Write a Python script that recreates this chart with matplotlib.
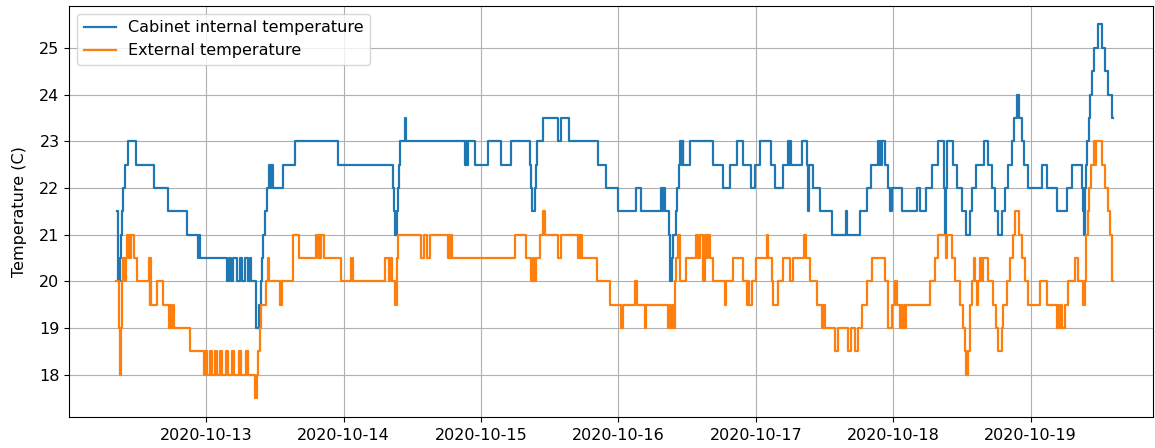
import pandas as pd
import matplotlib
matplotlib.use('Agg')
import matplotlib.pyplot as plt
import matplotlib.dates as mdates

# hours since 2020-10-12 00:00 and readings (C), step changes
cab_hours = [8.49, 8.67, 8.93, 9.11, 9.28, 9.54, 9.89, 10.33, 11.76, 14.87, 17.41, 20.60,
             22.65, 22.82, 23.0, 27.63, 28.07, 28.42, 28.77, 29.47, 29.90, 30.34, 30.86,
             31.39, 31.74, 31.91, 32.73, 33.31, 33.57, 33.83, 34.01, 34.27, 34.62, 35.06,
             35.32, 35.41, 35.67, 37.38, 39.43, 46.99, 56.61, 56.82, 56.99, 57.25, 57.43,
             57.60, 57.78, 58.74, 58.95, 69.14, 69.31, 69.49, 69.75, 70.88, 73.21, 75.43,
             77.30, 80.58, 80.76, 80.93, 81.37, 81.54, 81.81, 82.82, 85.48, 86.00, 87.36,
             92.43, 93.90, 95.88, 99.14, 100.02, 103.39, 103.65, 103.83, 104.09, 104.88,
             105.05, 105.40, 105.58, 106.01, 106.27, 106.62, 106.80, 107.06, 107.24, 107.32,
             108.46, 112.53, 114.31, 115.45, 116.62, 117.77, 119.12, 119.82, 120.78, 122.61,
             123.31, 124.71, 125.64, 125.85, 125.93, 126.06, 128.03, 128.91, 129.08, 129.34,
             130.04, 131.27, 133.36, 135.72, 135.98, 138.17, 139.34, 140.09, 141.37, 141.58,
             141.66, 141.93, 142.01, 142.54, 143.12, 143.50, 143.85, 145.46, 148.08, 148.65,
             149.70, 150.84, 151.80, 152.85, 153.02, 153.28, 153.37, 154.47, 155.12, 155.99,
             156.61, 157.31, 157.74, 158.53, 159.84, 160.54, 161.19, 161.76, 162.34, 162.93,
             163.51, 164.09, 164.68, 165.13, 165.55, 166.04, 166.43, 166.88, 167.58, 169.92,
             170.80, 172.55, 174.29, 175.16, 176.91, 177.05, 177.23, 177.49, 177.67, 177.84,
             178.10, 178.36, 178.66, 179.06, 179.71, 180.51, 180.99, 181.56, 182.12, 182.30]
cab_temp = [21.5, 20.0, 20.5, 21.0, 21.5, 22.0, 22.5, 23.0, 22.5, 22.0, 21.5, 21.0,
            20.5, 21.0, 20.5, 20.0, 20.5, 20.0, 20.5, 20.0, 20.5, 20.0, 20.5,
            20.0, 20.5, 20.0, 19.0, 19.5, 20.0, 20.5, 21.0, 21.5, 22.0, 22.5,
            22.0, 22.5, 22.0, 22.5, 23.0, 22.5, 22.0, 21.5, 21.0, 21.5, 22.0,
            22.5, 23.0, 23.5, 23.0, 22.5, 23.0, 22.5, 23.0, 22.5, 23.0, 22.5,
            23.0, 22.5, 22.0, 21.5, 22.0, 22.5, 23.0, 23.5, 23.0, 23.5, 23.0,
            22.5, 22.0, 21.5, 22.0, 21.5, 22.0, 21.5, 22.0, 21.5, 21.0,
            20.0, 20.5, 21.0, 21.5, 22.0, 22.5, 23.0, 22.5, 23.0, 22.5,
            23.0, 22.5, 22.0, 22.5, 23.0, 22.5, 22.0, 22.5, 23.0, 22.5,
            22.0, 22.5, 23.0, 22.5, 23.0, 22.5, 23.0, 22.5, 21.5, 22.5,
            22.0, 21.5, 21.0, 21.5, 21.0, 21.5, 22.0, 22.5, 23.0, 22.5,
            23.0, 22.5, 23.0, 22.5, 22.0, 21.5, 22.0, 21.5, 22.0, 21.5,
            22.0, 22.5, 23.0, 22.0, 21.0, 22.0, 23.0, 22.5, 22.0, 21.5,
            21.0, 21.5, 22.0, 22.5, 23.0, 22.5, 22.0, 21.5, 21.0, 21.5,
            22.0, 22.5, 23.0, 23.5, 24.0, 23.5, 23.0, 22.5, 22.0, 22.5,
            22.0, 21.5, 22.0, 22.5, 22.0, 21.5, 21.0, 22.0, 22.5, 23.0,
            23.5, 24.0, 24.5, 25.0, 25.5, 25.0, 24.5, 24.0, 23.5, 23.5]

ext_hours = [8.32, 8.76, 8.93, 9.19, 9.37, 9.54, 9.80, 9.98, 10.15, 10.33, 10.50, 10.77,
             10.85, 11.46, 11.99, 13.96, 14.14, 14.26, 14.44, 15.40, 16.53, 17.58, 17.76,
             17.93, 18.19, 18.37, 21.16, 23.70, 23.87, 24.22, 24.75, 25.10, 25.62, 25.97,
             26.49, 26.84, 27.54, 27.89, 28.59, 28.94, 29.81, 30.16, 31.04, 31.39, 32.52,
             32.84, 33.14, 33.40, 33.66, 34.45, 34.80, 35.06, 36.98, 37.21, 39.13, 40.30,
             43.22, 43.45, 43.62, 43.88, 44.06, 44.50, 47.59, 49.30, 49.56, 55.16, 55.94,
             56.12, 56.38, 56.99, 57.25, 57.43, 61.57, 61.97, 62.55, 63.02, 66.22, 66.43,
             66.60, 66.78, 66.95, 77.87, 79.92, 80.79, 81.02, 81.20, 81.67, 82.24, 82.82,
             83.12, 85.48, 86.00, 88.94, 89.15, 89.32, 89.50, 89.67, 92.29, 94.48, 96.52,
             96.80, 98.93, 99.20, 100.59, 100.86, 104.67, 104.88, 105.05, 105.31, 105.49,
             105.84, 106.10, 106.36, 106.71, 107.88, 109.63, 109.94, 110.29, 110.82, 111.08,
             111.43, 111.60, 111.95, 112.53, 114.58, 114.87, 116.03, 117.77, 118.51, 118.68,
             118.86, 119.24, 119.99, 121.86, 122.14, 122.74, 123.02, 123.89, 124.76, 125.93,
             126.51, 128.38, 128.73, 129.43, 130.60, 131.48, 131.65, 131.79, 131.97, 132.14,
             133.80, 134.38, 136.12, 136.60, 137.38, 137.87, 138.52, 139.39, 140.27, 142.54,
             143.12, 143.71, 144.29, 144.58, 145.16, 145.42, 145.60, 145.86, 146.03, 146.30,
             150.40, 151.28, 151.89, 153.20, 153.46, 154.19, 154.77, 155.65, 156.22, 156.52,
             156.78, 157.10, 157.31, 157.48, 157.69, 158.18, 158.35, 158.56, 158.84, 159.14,
             159.44, 159.66, 160.59, 161.46, 161.94, 162.34, 162.93, 163.21, 163.80, 164.38,
             164.96, 165.26, 166.01, 166.43, 167.00, 167.58, 169.62, 170.80, 172.55, 172.77,
             172.95, 173.30, 173.47, 174.00, 174.57, 175.74, 176.32, 177.14, 177.40, 177.67,
             177.93, 178.19, 178.54, 178.98, 179.24, 179.42, 180.41, 180.99, 181.56, 181.86,
             182.16, 182.30]
ext_temp = [20.0, 19.0, 18.0, 19.0, 20.0, 20.5, 20.0, 20.5, 21.0, 20.5, 21.0, 20.5,
            21.0, 20.5, 20.0, 20.5, 19.5, 20.5, 19.5, 20.0, 19.5, 19.0, 19.5,
            19.0, 19.5, 19.0, 18.5, 18.0, 18.5, 18.0, 18.5, 18.0, 18.5, 18.0,
            18.5, 18.0, 18.5, 18.0, 18.5, 18.0, 18.5, 18.0, 18.5, 18.0, 17.5,
            18.0, 18.5, 19.0, 19.5, 20.0, 20.5, 20.0, 19.5, 20.0, 21.0, 20.5,
            21.0, 20.5, 21.0, 20.5, 21.0, 20.5, 20.0, 20.5, 20.0, 20.5, 20.0,
            20.5, 20.0, 19.5, 20.5, 21.0, 20.5, 21.0, 20.5, 21.0, 20.5, 21.0,
            20.5, 21.0, 20.5, 21.0, 20.5, 20.0, 20.5, 20.0, 20.5, 21.0, 21.5,
            21.0, 20.5, 21.0, 20.5, 21.0, 20.5, 21.0, 20.5, 20.0, 19.5, 19.0,
            19.5, 20.0, 19.5, 19.0, 19.5, 19.0, 19.5, 19.0, 19.5, 19.0,
            20.0, 20.5, 21.0, 20.0, 20.5, 21.0, 20.5, 21.0, 20.0, 21.0,
            20.5, 21.0, 20.5, 20.0, 19.5, 20.0, 20.5, 20.0, 19.5, 20.0,
            19.5, 20.0, 20.5, 21.0, 20.5, 20.0, 19.5, 20.0, 20.5, 20.0,
            20.5, 21.0, 20.5, 20.0, 19.5, 19.0, 19.5, 19.0, 19.5, 19.0,
            18.5, 19.0, 18.5, 19.0, 18.5, 19.0, 19.5, 20.0, 20.5, 20.0,
            19.0, 19.5, 20.0, 19.5, 19.0, 19.5, 19.0, 19.5, 19.0, 19.5,
            20.0, 20.5, 21.0, 20.5, 21.0, 20.5, 20.0, 19.5, 19.0, 18.5,
            18.0, 18.5, 19.0, 19.5, 20.0, 20.5, 20.0, 19.5, 20.0, 20.5,
            20.0, 20.5, 20.0, 19.5, 19.0, 18.5, 19.0, 19.5, 20.0, 20.5,
            21.0, 21.5, 21.0, 20.5, 20.0, 19.5, 20.0, 19.5, 19.0, 19.5,
            19.0, 19.5, 19.0, 19.5, 20.0, 20.5, 20.0, 19.5, 20.0, 21.0,
            21.5, 22.0, 22.5, 23.0, 22.5, 23.0, 22.5, 22.0, 21.5, 21.0,
            20.0, 20.0]

start = pd.Timestamp('2020-10-12')
cab_time = start + pd.to_timedelta(cab_hours, unit='h')
ext_time = start + pd.to_timedelta(ext_hours, unit='h')

plt.rcParams['font.size'] = 11.5

fig = plt.figure(figsize=(11.55, 4.48), dpi=100)
ax = fig.add_axes([0.060, 0.070, 0.938, 0.917])

ax.plot(cab_time, cab_temp, drawstyle='steps-post', linewidth=1.6,
        label='Cabinet internal temperature')
ax.plot(ext_time, ext_temp, drawstyle='steps-post', linewidth=1.6,
        label='External temperature')

ax.set_xlim(start + pd.Timedelta(hours=0.1), start + pd.Timedelta(hours=189.3))
ax.set_ylim(17.1, 25.9)
ax.xaxis.set_major_locator(mdates.DayLocator())
ax.xaxis.set_major_formatter(mdates.DateFormatter('%Y-%m-%d'))
ax.tick_params(axis='x', pad=5)

ax.set_ylabel('Temperature (C)', labelpad=9)
ax.grid(True)
ax.legend(loc='upper left')

fig.savefig('out.png')
